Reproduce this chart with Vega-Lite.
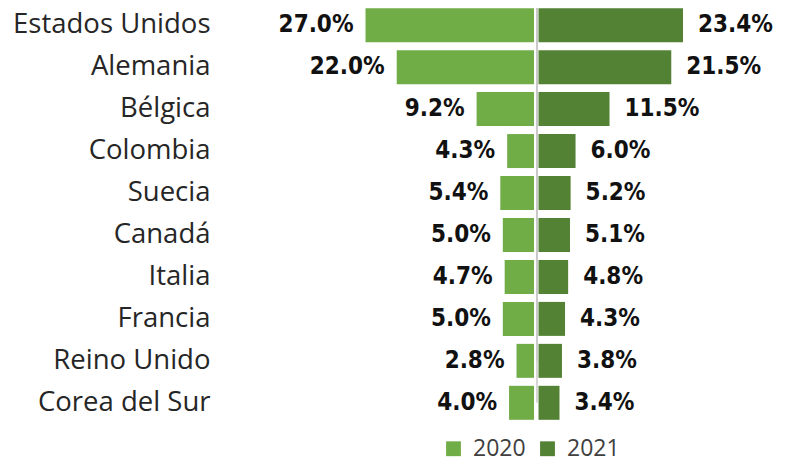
{
  "$schema": "https://vega.github.io/schema/vega-lite/v6.json",
  "background": "white",
  "padding": {"left": 12, "top": 4, "right": 0, "bottom": 4},
  "data": {"values": [
    {"country": "Estados Unidos", "year": "2020", "value": 0.270},
    {"country": "Alemania", "year": "2020", "value": 0.220},
    {"country": "Bélgica", "year": "2020", "value": 0.092},
    {"country": "Colombia", "year": "2020", "value": 0.043},
    {"country": "Suecia", "year": "2020", "value": 0.054},
    {"country": "Canadá", "year": "2020", "value": 0.050},
    {"country": "Italia", "year": "2020", "value": 0.047},
    {"country": "Francia", "year": "2020", "value": 0.050},
    {"country": "Reino Unido", "year": "2020", "value": 0.028},
    {"country": "Corea del Sur", "year": "2020", "value": 0.040},
    {"country": "Estados Unidos", "year": "2021", "value": 0.234},
    {"country": "Alemania", "year": "2021", "value": 0.215},
    {"country": "Bélgica", "year": "2021", "value": 0.115},
    {"country": "Colombia", "year": "2021", "value": 0.060},
    {"country": "Suecia", "year": "2021", "value": 0.052},
    {"country": "Canadá", "year": "2021", "value": 0.051},
    {"country": "Italia", "year": "2021", "value": 0.048},
    {"country": "Francia", "year": "2021", "value": 0.043},
    {"country": "Reino Unido", "year": "2021", "value": 0.038},
    {"country": "Corea del Sur", "year": "2021", "value": 0.034}
  ]},
  "spacing": 0,
  "hconcat": [
    {
      "width": 312,
      "height": 420,
      "transform": [{"filter": "datum.year == '2020'"}],
      "encoding": {
        "y": {"field": "country", "type": "nominal",
          "sort": ["Estados Unidos","Alemania","Bélgica","Colombia","Suecia","Canadá","Italia","Francia","Reino Unido","Corea del Sur"],
          "scale": {"paddingInner": 0.19, "paddingOuter": 0.1},
          "axis": {"title": null, "ticks": false, "domain": false, "labelFont": "Open Sans", "labelFontSize": 27.5, "labelColor": "#262626", "labelPadding": 14, "labelLimit": 300}}
      },
      "layer": [
        {
          "mark": {"type": "bar", "color": "#70AD47"},
          "encoding": {
            "x": {"field": "value", "type": "quantitative", "scale": {"domain": [0, 0.48], "range": [310, -2]}, "axis": null},
            "color": {"field": "year", "type": "nominal", "scale": {"domain": ["2020","2021"], "range": ["#70AD47","#548235"]},
              "legend": {"title": null, "orient": "none", "legendX": 218, "legendY": 433, "padding": 0, "direction": "horizontal", "symbolType": "square", "symbolSize": 220, "symbolStrokeWidth": 0, "labelFont": "Open Sans", "labelFontSize": 23, "labelColor": "#404040", "columnPadding": 10, "labelOffset": 8}}
          }
        },
        {
          "mark": {"type": "text", "align": "right", "baseline": "middle", "dx": -12, "font": "DejaVu Sans Condensed", "fontWeight": "bold", "fontSize": 24, "color": "#111111"},
          "encoding": {
            "x": {"field": "value", "type": "quantitative"},
            "text": {"field": "value", "type": "quantitative", "format": ".1%"}
          }
        }
      ]
    },
    {
      "width": 249,
      "height": 420,
      "transform": [{"filter": "datum.year == '2021'"}],
      "encoding": {
        "y": {"field": "country", "type": "nominal",
          "sort": ["Estados Unidos","Alemania","Bélgica","Colombia","Suecia","Canadá","Italia","Francia","Reino Unido","Corea del Sur"],
          "scale": {"paddingInner": 0.19, "paddingOuter": 0.1},
          "axis": null}
      },
      "layer": [
        {
          "mark": {"type": "bar", "color": "#548235"},
          "encoding": {
            "x": {"field": "value", "type": "quantitative", "scale": {"domain": [0, 0.38], "range": [1.5, 248.5]}, "axis": null},
            "color": {"field": "year", "type": "nominal"}
          }
        },
        {
          "mark": {"type": "rule", "color": "#C8C8C8", "strokeWidth": 1.5},
          "encoding": {"x": {"value": 0}}
        },
        {
          "mark": {"type": "text", "align": "left", "baseline": "middle", "dx": 15, "font": "DejaVu Sans Condensed", "fontWeight": "bold", "fontSize": 24, "color": "#111111"},
          "encoding": {
            "x": {"field": "value", "type": "quantitative"},
            "text": {"field": "value", "type": "quantitative", "format": ".1%"}
          }
        }
      ]
    }
  ],
  "resolve": {"scale": {"x": "independent", "color": "shared"}},
  "config": {"view": {"stroke": null}}
}
